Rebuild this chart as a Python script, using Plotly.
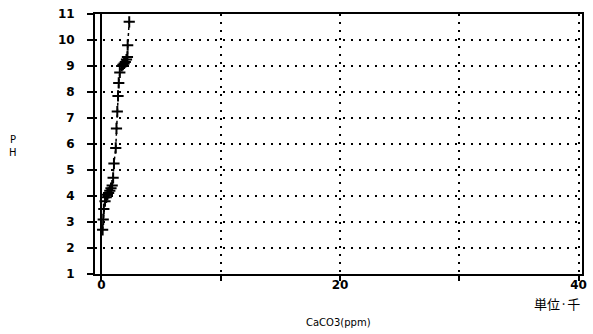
import plotly.graph_objects as go

# CaCO3 (thousand ppm) vs pH
caco3 = [0.10, 0.15, 0.20, 0.30, 0.40, 0.50, 0.60, 0.70, 0.80, 0.90, 0.98, 1.05,
         1.20, 1.26, 1.33, 1.39, 1.45, 1.54, 1.70, 1.80, 1.90, 2.00, 2.10, 2.18,
         2.20, 2.33]
ph = [2.70, 3.10, 3.50, 3.80, 3.95, 4.05, 4.12, 4.20, 4.30, 4.40, 4.70, 5.25,
      5.85, 6.60, 7.25, 7.85, 8.35, 8.75, 9.00, 9.05, 9.10, 9.15, 9.25, 9.35,
      9.80, 10.70]

x_ticks = [0, 10, 20, 30, 40]
x_ticktext = ["0", "", "20", "", "40"]
y_ticks = list(range(1, 12))
y_ticktext = [str(v) for v in y_ticks]

W, H = 593, 334
ML, MR, MT, MB = 95, 6, 14, 60
pw = W - ML - MR
plot_h = H - MT - MB


def px_to_paper(px, py):
    return (px - ML) / pw, (H - MB - py) / plot_h


fig = go.Figure()
fig.add_trace(go.Scatter(
    x=caco3, y=ph, mode="lines+markers",
    line=dict(color="black", width=1.5, dash="dot"),
    marker=dict(symbol="cross-thin", size=8, line=dict(color="black", width=2)),
    showlegend=False,
))

tick_font = dict(family="DejaVu Sans", size=12, color="black", weight="bold")

items = [
    ("P", 12, 139, 10, "DejaVu Sans"),
    ("H", 12, 152, 10, "DejaVu Sans"),
    ("CaCO3(ppm)", 341, 322, 10, "DejaVu Sans"),
    ("単位·千", 562, 303, 13, "Noto Sans CJK JP"),
]
anns = []
for t, px, py, sz, fam in items:
    ax, ay = px_to_paper(px, py)
    anns.append(dict(text=t, x=ax, y=ay, xref="paper", yref="paper",
                     showarrow=False, xanchor="center", yanchor="middle",
                     font=dict(family=fam, size=sz, color="black")))

fig.update_layout(
    width=W, height=H,
    margin=dict(l=ML, r=MR, t=MT, b=MB),
    paper_bgcolor="white", plot_bgcolor="white",
    xaxis=dict(
        range=[-0.54, 40.29], tickvals=x_ticks, ticktext=x_ticktext,
        showline=True, mirror=True, linecolor="black", linewidth=2,
        ticks="outside", ticklen=5, tickwidth=2, tickcolor="black",
        showgrid=True, gridcolor="black", gridwidth=1.5, griddash="2px,6px",
        zeroline=True, zerolinecolor="black", zerolinewidth=2,
        tickfont=tick_font, ticklabelstandoff=-6,
    ),
    yaxis=dict(
        range=[1, 11], tickvals=y_ticks, ticktext=y_ticktext,
        showline=True, mirror=True, linecolor="black", linewidth=2,
        ticks="outside", ticklen=6, tickwidth=2, tickcolor="black",
        showgrid=True, gridcolor="black", gridwidth=1.5, griddash="2px,6px",
        zeroline=False,
        tickfont=tick_font, ticklabelstandoff=10,
    ),
    annotations=anns,
)

fig.write_html("out.html")
